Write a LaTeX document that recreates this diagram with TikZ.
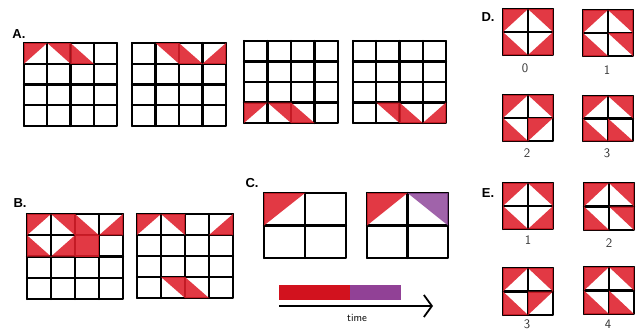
\documentclass[tikz,border=0pt]{standalone}
\usepackage{fontspec}
\setmainfont{Liberation Sans}
\usetikzlibrary{arrows.meta}
\definecolor{myred}{RGB}{222,30,42}
\definecolor{mypurple}{RGB}{143,72,155}
\definecolor{barred}{RGB}{210,18,30}
\definecolor{barpurple}{RGB}{145,65,150}
\tikzset{
  redf/.style={fill=myred, fill opacity=0.88},
  purf/.style={fill=mypurple, fill opacity=0.85},
  gl/.style={line width=2.1pt, black, line cap=round},
  ol/.style={line width=2.5pt, black, line join=round},
  lab/.style={font=\bfseries\fontsize{13}{13}\selectfont, inner sep=0pt},
  num/.style={font=\sffamily\fontsize{13}{13}\selectfont, text=black!80, inner sep=0pt},
}
\newcommand\triTL[3][redf]{\fill[#1] (#2,#3) -- (#2+1,#3) -- (#2,#3+1) -- cycle;}
\newcommand\triTR[3][redf]{\fill[#1] (#2,#3) -- (#2+1,#3) -- (#2+1,#3+1) -- cycle;}
\newcommand\triBL[3][redf]{\fill[#1] (#2,#3) -- (#2,#3+1) -- (#2+1,#3+1) -- cycle;}
\newcommand\triBR[3][redf]{\fill[#1] (#2+1,#3) -- (#2+1,#3+1) -- (#2,#3+1) -- cycle;}
\newcommand\fullcell[2]{\fill[redf] (#1,#2) rectangle (#1+1,#2+1);}
\newcommand\cellgrid[2]{%
  \foreach \i in {1,...,#1}{\draw[gl] (\i-1,0) -- (\i-1,#2);}
  \foreach \j in {1,...,#2}{\draw[gl] (0,\j-1) -- (#1,\j-1);}
  \draw[ol] (0,0) rectangle (#1,#2);}
\begin{document}
\begin{tikzpicture}[x=1pt,y=-1pt]
\useasboundingbox (0,0) rectangle (636,332);
% ---------- A ----------
\node[lab] (la) at (19,34) {A.};
\begin{scope}[shift={(24,43)},xscale=23.25,yscale=20.75]
  \cellgrid{4}{4}
  \triTL{0}{0}\triTR{1}{0}\triBL{2}{0}
\end{scope}
\begin{scope}[shift={(132,43)},xscale=23.5,yscale=20.75]
  \cellgrid{4}{4}
  \triTR{1}{0}\triBL{2}{0}\triBR{3}{0}
\end{scope}
\begin{scope}[shift={(244,41)},xscale=23.5,yscale=20.5]
  \cellgrid{4}{4}
  \triTL{0}{3}\triTR{1}{3}\triBL{2}{3}
\end{scope}
\begin{scope}[shift={(353,41)},xscale=23.25,yscale=20.5]
  \cellgrid{4}{4}
  \triTR{1}{3}\triBL{2}{3}\triBR{3}{3}
\end{scope}
% ---------- B ----------
\node[lab] (lb) at (20,203) {B.};
\begin{scope}[shift={(27,214)},xscale=24,yscale=21.25]
  \cellgrid{4}{4}
  \triTL{0}{0}\triTR{1}{0}\triBL{0}{1}\triBR{1}{1}
  \triBL{2}{0}\triBR{3}{0}\fullcell{2}{1}
\end{scope}
\begin{scope}[shift={(137,214)},xscale=24,yscale=21]
  \cellgrid{4}{4}
  \triTL{0}{0}\triTR{1}{0}\triBR{3}{0}
  \triTR{1}{3}\triBL{2}{3}
\end{scope}
% ---------- C ----------
\node[lab] (lc) at (252,183) {C.};
\begin{scope}[shift={(264,193)},xscale=41,yscale=32.5]
  \cellgrid{2}{2}
  \triTL{0}{0}
\end{scope}
\begin{scope}[shift={(367,193)},xscale=40.5,yscale=32.5]
  \cellgrid{2}{2}
  \triTL{0}{0}\triTR[purf]{1}{0}
\end{scope}
\fill[barred] (279,285) rectangle (350,300);
\fill[barpurple] (350,285) rectangle (401,300);
\coordinate (t0) at (279,306);
\coordinate (t1) at (433,306);
\draw[line width=1.8pt, -{Straight Barb[length=8pt,width=22pt,line width=1.8pt]}] (t0) -- (t1);
\node[font=\sffamily\fontsize{11}{11}\selectfont, inner sep=0pt] (time) at (357,318) {time};
% ---------- D ----------
\node[lab] (ld) at (488,17) {D.};
\begin{scope}[shift={(503,9)},xscale=25,yscale=23]
  \cellgrid{2}{2}
  \triTL{0}{0}\triTR{1}{0}\triBL{0}{1}\triBR{1}{1}
\end{scope}
\node[num] (d0) at (525,68) {0};
\begin{scope}[shift={(583,10)},xscale=25,yscale=23]
  \cellgrid{2}{2}
  \triTL{0}{0}\triTR{1}{0}\triBL{0}{1}\triTR{1}{1}
\end{scope}
\node[num] (d1) at (607,70) {1};
\begin{scope}[shift={(503,95)},xscale=25,yscale=23]
  \cellgrid{2}{2}
  \triTL{0}{0}\triTR{1}{0}\triBL{0}{1}\triTL{1}{1}
\end{scope}
\node[num] (d2) at (527,153) {2};
\begin{scope}[shift={(583,96)},xscale=25,yscale=22.5]
  \cellgrid{2}{2}
  \triTL{0}{0}\triTR{1}{0}\triBL{0}{1}\triBL{1}{1}
\end{scope}
\node[num] (d3) at (607,153) {3};
% ---------- E ----------
\node[lab] (le) at (488,193) {E.};
\begin{scope}[shift={(503,183)},xscale=25,yscale=23]
  \cellgrid{2}{2}
  \triTL{0}{0}\triTR{1}{0}\triBL{0}{1}\triBR{1}{1}
\end{scope}
\node[num] (e1) at (528,240) {1};
\begin{scope}[shift={(584,183)},xscale=25,yscale=23.5]
  \cellgrid{2}{2}
  \triTL{0}{0}\triTR{1}{0}\triBL{0}{1}\triTR{1}{1}
\end{scope}
\node[num] (e2) at (609,243) {2};
\begin{scope}[shift={(503,268)},xscale=25,yscale=23.5]
  \cellgrid{2}{2}
  \triTL{0}{0}\triTR{1}{0}\triBL{0}{1}\triTL{1}{1}
\end{scope}
\node[num] (e3) at (527,324) {3};
\begin{scope}[shift={(584,267)},xscale=25,yscale=23.5]
  \cellgrid{2}{2}
  \triTL{0}{0}\triTR{1}{0}\triBL{0}{1}\triBL{1}{1}
\end{scope}
\node[num] (e4) at (608,324) {4};
\end{tikzpicture}
\end{document}
